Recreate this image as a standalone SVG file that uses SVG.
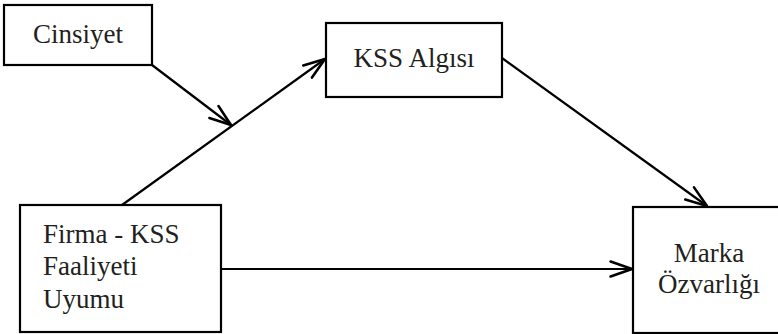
<svg xmlns="http://www.w3.org/2000/svg" width="778" height="334" viewBox="0 0 778 334">
<style>
.box{fill:#fff;stroke:#000;stroke-width:2.2}
.t{font-family:'Liberation Serif','Times New Roman',Times,serif;font-size:27px;fill:#231f20}
.c{fill:none;stroke:#000;stroke-width:2.2}
</style>
<defs>
<marker id="ah" markerUnits="userSpaceOnUse" markerWidth="30" markerHeight="30" viewBox="-24 -10 28 20" refX="0" refY="0" orient="auto" overflow="visible">
<path d="M-20,-7 L0,0 L-20,7" fill="none" stroke="#000" stroke-width="2.4" stroke-linejoin="round" stroke-linecap="round"/>
</marker>
</defs>
<rect width="778" height="334" fill="#fff"/>
<g id="connectors">
<line class="c" x1="122" y1="205" x2="325" y2="59" marker-end="url(#ah)"/>
<line class="c" x1="152" y1="65" x2="231" y2="125" marker-end="url(#ah)"/>
<line class="c" x1="502" y1="58" x2="707" y2="206" marker-end="url(#ah)"/>
<line class="c" x1="221" y1="269" x2="632" y2="269" marker-end="url(#ah)"/>
</g>
<g id="cinsiyet">
<rect class="box" x="4" y="5" width="148" height="60"/>
<text class="t" x="78" y="43" text-anchor="middle">Cinsiyet</text>
</g>
<g id="kss-algisi">
<rect class="box" x="326" y="23" width="176" height="74"/>
<text class="t" x="414" y="67" text-anchor="middle">KSS Algısı</text>
</g>
<g id="firma">
<rect class="box" x="20" y="205" width="201" height="127"/>
<text class="t" x="43" y="243">Firma - KSS</text>
<text class="t" x="43" y="275">Faaliyeti</text>
<text class="t" x="43" y="308">Uyumu</text>
</g>
<g id="marka">
<rect class="box" x="633" y="207" width="152" height="126"/>
<text class="t" x="709" y="262" text-anchor="middle">Marka</text>
<text class="t" x="709" y="293" text-anchor="middle">Özvarlığı</text>
</g>
</svg>
